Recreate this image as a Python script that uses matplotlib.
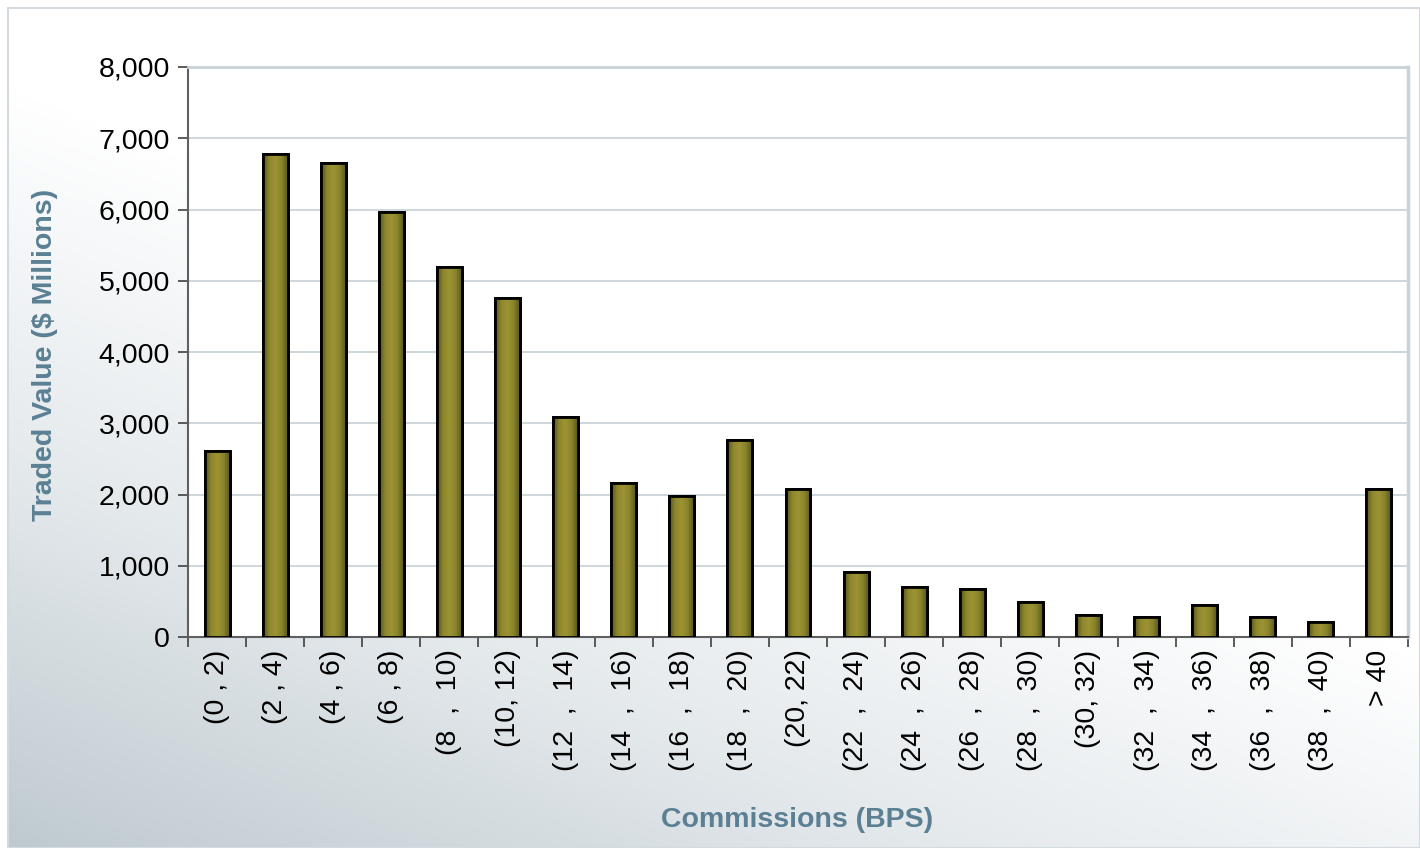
import matplotlib
matplotlib.use("Agg")
import matplotlib.pyplot as plt
import numpy as np
from matplotlib.colors import LinearSegmentedColormap

categories = ["(0 , 2)", "(2 , 4)", "(4 , 6)", "(6 , 8)", "(8  ,  10)", "(10, 12)",
              "(12  ,  14)", "(14  ,  16)", "(16  ,  18)", "(18  ,  20)", "(20, 22)",
              "(22  ,  24)", "(24  ,  26)", "(26  ,  28)", "(28  ,  30)", "(30, 32)",
              "(32  ,  34)", "(34  ,  36)", "(36  ,  38)", "(38  ,  40)", "> 40"]
traded_value = [2610, 6780, 6650, 5960, 5200, 4760, 3090, 2160, 1980, 2760, 2080,
                910, 700, 670, 490, 310, 280, 450, 280, 210, 2080]
y_ticks = [0, 1000, 2000, 3000, 4000, 5000, 6000, 7000, 8000]

plt.rcParams['font.family'] = ['Liberation Sans', 'DejaVu Sans']

fig = plt.figure(figsize=(14.2, 8.48), dpi=100)

# background gradient panel
bg = fig.add_axes([8 / 1420, 0, 1 - 8 / 1420, 1 - 8 / 848], zorder=-2)
xx, yy = np.meshgrid(np.linspace(0, 1, 300), np.linspace(0, 1, 200))
t = np.clip(0.75 * xx + 1.1 * yy, 0, 1)
bg_cmap = LinearSegmentedColormap.from_list("bg", ["#bfcad0", "#e4e9ec", "#ffffff"])
bg.imshow(t, cmap=bg_cmap, origin="lower", aspect="auto", extent=[0, 1, 0, 1])
bg.set_xlim(0, 1)
bg.set_ylim(0, 1)
bg.set_xticks([])
bg.set_yticks([])
for s in bg.spines.values():
    s.set_color("#d3dbe0")
    s.set_linewidth(1.5)

ax = fig.add_axes([188 / 1420, 211 / 848, 1220 / 1420, 570 / 848])
ax.set_facecolor("white")
x = np.arange(len(categories))
bars = ax.bar(x, traded_value, width=0.43, color="#938b2f", edgecolor="black",
              linewidth=2, zorder=3)

bar_cmap = LinearSegmentedColormap.from_list(
    "bar", ["#55521c", "#8e872d", "#9c9333", "#8a842c", "#5a571e"])
grad = np.linspace(0, 1, 64).reshape(1, -1)
for b in bars:
    bx, by = b.get_x(), b.get_y()
    im = ax.imshow(grad, cmap=bar_cmap, aspect="auto", zorder=3.5,
                   extent=[bx, bx + b.get_width(), by, by + b.get_height()])
    im.set_clip_path(b)
    ax.add_patch(plt.Rectangle((bx, by), b.get_width(), b.get_height(),
                               fill=False, edgecolor="black", linewidth=2, zorder=4))

ax.set_xlim(-0.5, len(categories) - 0.5)
ax.set_ylim(0, 8000)
ax.set_yticks(y_ticks)
ax.set_yticklabels([f"{v:,}" for v in y_ticks], fontsize=20.5)
ax.set_xticks(x)
ax.set_xticklabels(categories, rotation=90, fontsize=20.5)
ax.set_xticks(np.arange(len(categories) + 1) - 0.5, minor=True)
ax.tick_params(axis="x", which="major", length=0, pad=9)
ax.tick_params(axis="x", which="minor", length=7, color="#404040", width=1.2)
ax.tick_params(axis="y", length=7, color="#404040", width=1.2, pad=6)
ax.grid(axis="y", color="#c5d0d6", linewidth=1.2, zorder=0)
ax.set_axisbelow(True)

ax.spines["left"].set_color("#606060")
ax.spines["bottom"].set_color("#606060")
ax.spines["left"].set_linewidth(1.5)
ax.spines["bottom"].set_linewidth(1.5)
ax.spines["top"].set_color("#c8d2d8")
ax.spines["right"].set_color("#c8d2d8")
ax.spines["top"].set_linewidth(2)
ax.spines["right"].set_linewidth(2.5)

fig.text(45 / 1420, 1 - 355 / 848, "Traded Value ($ Millions)", rotation=90,
         ha="center", va="center", fontsize=20.5, fontweight="bold", color="#5b8093")
fig.text(797 / 1420, 1 - 820 / 848, "Commissions (BPS)", ha="center", va="center",
         fontsize=20.5, fontweight="bold", color="#5b8093")

fig.savefig("out.png", dpi=100)
